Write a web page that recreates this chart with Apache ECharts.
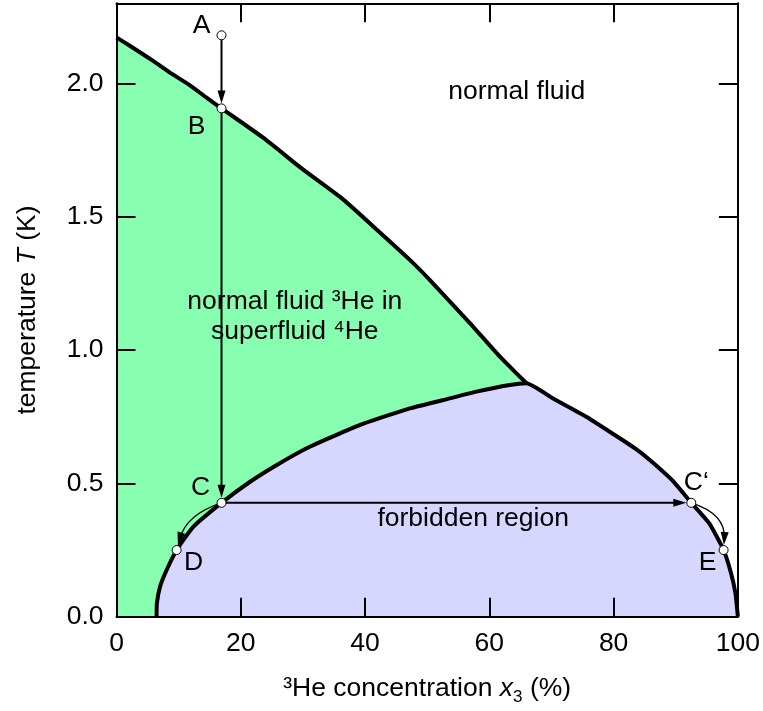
<!DOCTYPE html>
<html>
<head>
<meta charset="utf-8">
<script src="https://cdn.jsdelivr.net/npm/echarts@6/dist/echarts.min.js"></script>
<style>
  html, body { margin: 0; padding: 0; background: #ffffff; }
  #chart { width: 763px; height: 711px; }
</style>
</head>
<body>
<div id="chart"></div>
<script>
// ---- axis ticks ----
const xTicks = [0, 20, 40, 60, 80, 100];
const tTicks = [0.0, 0.5, 1.0, 1.5, 2.0];
const tMax = 2.3;

// ---- lambda line: 3He concentration (%) vs temperature (K) ----
const lambdaX = [0, 2.2, 5.9, 8.6, 11.6, 14.5, 16.9, 23.6, 30.0, 36.5, 41.9, 47.2, 50.4, 56.9, 61.7, 66.0];
const lambdaT = [2.172, 2.140, 2.084, 2.040, 1.996, 1.946, 1.906, 1.796, 1.677, 1.564, 1.451, 1.338, 1.263, 1.100, 0.975, 0.875];

// ---- phase-separation curve ----
const sepX = [6.45, 6.5, 7.0, 8.07, 9.68, 12.35, 16.9, 21.5, 25.8, 31.1, 39.2, 47.2, 52.6, 57.9, 63.3, 66.0,
              70.2, 75.6, 81.0, 84.0, 86.3, 89.5, 92.5, 95.4, 97.7, 98.9, 99.6, 100];
const sepT = [0, 0.05, 0.112, 0.175, 0.25, 0.337, 0.427, 0.506, 0.569, 0.637, 0.719, 0.781, 0.8125, 0.844, 0.869, 0.875,
              0.819, 0.75, 0.669, 0.622, 0.578, 0.51, 0.427, 0.35, 0.25, 0.163, 0.088, 0];

// ---- marked states on the cooling path ----
const pointNames = ['A', 'B', 'C', 'D', 'C\u2018', 'E'];
const pointX = [16.9, 16.9, 16.9, 9.68, 92.5, 97.7];
const pointT = [2.18, 1.906, 0.427, 0.25, 0.427, 0.25];

// arrows between states: [from index, to index]
const arrowFrom = [0, 1, 2, 2, 4];
const arrowTo   = [1, 2, 4, 3, 5];

// ---- region names ----
const regionNames = ['normal fluid', 'normal fluid \u00b3He in\nsuperfluid \u2074He', 'forbidden region'];
const regionX = [64.4, 28.7, 57.4];
const regionT = [1.968, 1.125, 0.369];

// ---- styling ----
const FONT = "'Liberation Sans', Arial, Helvetica, sans-serif";
const FS = 26.5;
const GREEN = '#88ffb0';
const LAVENDER = '#d6d6fe';
// label offsets (px) for each state letter
const letterOffset = { 'A': [-20, -10], 'B': [-25, 18], 'C': [-21, -15], 'D': [17, 13], 'C\u2018': [5, -20], 'E': [-16, 13] };
// bend of each arrow (0 = straight) and its stroke width
const arrowBend = [0, 0, 0, -0.27, 0.39];
const arrowWidth = [2, 2, 2, 1.3, 1.3];

const zip = (xs, ys) => xs.map((v, i) => [v, ys[i]]);

const arrowData = arrowFrom.map((f, i) => [pointX[f], pointT[f], pointX[arrowTo[i]], pointT[arrowTo[i]], arrowBend[i], arrowWidth[i]]);

function renderArrow(params, api) {
  const p1 = api.coord([api.value(0), api.value(1)]);
  const p2 = api.coord([api.value(2), api.value(3)]);
  const bend = api.value(4);
  const lw = api.value(5);
  const dx = p2[0] - p1[0], dy = p2[1] - p1[1];
  const len = Math.hypot(dx, dy);
  const R = 5;             // radius of the state circles
  const HL = 13, HW = 4;   // arrowhead length / half width
  let ctrl = null, tx = dx, ty = dy;
  if (bend) {
    const mx = (p1[0] + p2[0]) / 2, my = (p1[1] + p2[1]) / 2;
    const nx = dy / len, ny = -dx / len;
    ctrl = [mx + nx * bend * len, my + ny * bend * len];
    tx = p2[0] - ctrl[0]; ty = p2[1] - ctrl[1];
  }
  const tl = Math.hypot(tx, ty);
  const ux = tx / tl, uy = ty / tl;
  const tip = [p2[0] - ux * R, p2[1] - uy * R];
  const base = [tip[0] - ux * HL, tip[1] - uy * HL];
  const lineEnd = [tip[0] - ux * HL * 0.5, tip[1] - uy * HL * 0.5];
  const children = [];
  if (ctrl) {
    children.push({
      type: 'bezierCurve',
      shape: { x1: p1[0], y1: p1[1], x2: lineEnd[0], y2: lineEnd[1], cpx1: ctrl[0], cpy1: ctrl[1] },
      style: { stroke: '#000', lineWidth: lw, fill: null }
    });
  } else {
    children.push({
      type: 'line',
      shape: { x1: p1[0], y1: p1[1], x2: lineEnd[0], y2: lineEnd[1] },
      style: { stroke: '#000', lineWidth: lw }
    });
  }
  children.push({
    type: 'polygon',
    shape: { points: [tip, [base[0] - uy * HW, base[1] + ux * HW], [base[0] + uy * HW, base[1] - ux * HW]] },
    style: { fill: '#000' }
  });
  return { type: 'group', children };
}

const axisCommon = {
  type: 'value',
  splitLine: { show: false },
  axisLine: { show: true, onZero: false, lineStyle: { color: '#000', width: 2 } },
  axisTick: { show: true, inside: true, length: 19, lineStyle: { color: '#000', width: 2 } },
  z: 10
};

const chart = echarts.init(document.getElementById('chart'), null, { renderer: 'canvas' });

chart.setOption({
  animation: false,
  backgroundColor: '#ffffff',
  textStyle: { fontFamily: FONT },
  grid: { left: 116.5, right: 24.7, top: 3.3, bottom: 94.3, containLabel: false },
  xAxis: [
    Object.assign({}, axisCommon, {
      position: 'bottom',
      min: xTicks[0], max: xTicks[xTicks.length - 1], interval: xTicks[1] - xTicks[0],
      axisLabel: { show: true, margin: 13, color: '#000', fontSize: FS, fontFamily: FONT,
                   formatter: v => xTicks.includes(v) ? String(v) : '' },
      name: '{n|\u00b3He concentration }{i|x}{s|3}{n| (%)}',
      nameLocation: 'middle',
      nameGap: 54,
      nameTextStyle: {
        rich: {
          n: { fontSize: FS, fontFamily: FONT, color: '#000' },
          i: { fontSize: FS, fontFamily: FONT, fontStyle: 'italic', color: '#000' },
          s: { fontSize: 17, fontFamily: FONT, color: '#000', padding: [18, 0, 0, 0] }
        }
      }
    }),
    Object.assign({}, axisCommon, {
      position: 'top',
      min: xTicks[0], max: xTicks[xTicks.length - 1], interval: xTicks[1] - xTicks[0],
      axisLabel: { show: false }
    })
  ],
  yAxis: [
    Object.assign({}, axisCommon, {
      position: 'left',
      min: 0, max: tMax, interval: tTicks[1] - tTicks[0],
      axisLabel: { show: true, margin: 13, color: '#000', fontSize: FS, fontFamily: FONT,
                   formatter: v => tTicks.some(t => Math.abs(t - v) < 1e-9) ? v.toFixed(1) : '' },
      name: '{n|temperature }{i|T}{n| (K)}',
      nameLocation: 'middle',
      nameGap: 75,
      nameTextStyle: {
        rich: {
          n: { fontSize: FS, fontFamily: FONT, color: '#000' },
          i: { fontSize: FS, fontFamily: FONT, fontStyle: 'italic', color: '#000' }
        }
      }
    }),
    Object.assign({}, axisCommon, {
      position: 'right',
      min: 0, max: tMax, interval: tTicks[1] - tTicks[0],
      axisLabel: { show: false }
    })
  ],
  series: [
    {
      // superfluid region below the lambda line
      name: 'lambda line',
      type: 'line',
      data: zip(lambdaX, lambdaT),
      showSymbol: false,
      smooth: 0.2,
      lineStyle: { color: '#000', width: 4 },
      areaStyle: { color: GREEN, opacity: 1 },
      z: 2
    },
    {
      // phase separation (forbidden) region
      name: 'phase separation',
      type: 'line',
      data: zip(sepX, sepT),
      showSymbol: false,
      smooth: 0.15,
      lineStyle: { color: '#000', width: 4 },
      areaStyle: { color: LAVENDER, opacity: 1 },
      z: 3
    },
    {
      name: 'arrows',
      type: 'custom',
      renderItem: renderArrow,
      data: arrowData,
      encode: { x: [0, 2], y: [1, 3] },
      silent: true,
      z: 4
    },
    {
      name: 'states',
      type: 'scatter',
      data: pointNames.map((n, i) => ({
        name: n,
        value: [pointX[i], pointT[i]],
        label: { offset: letterOffset[n] }
      })),
      symbol: 'circle',
      symbolSize: 9,
      itemStyle: { color: '#fff', borderColor: '#000', borderWidth: 1, opacity: 1 },
      label: { show: true, position: 'inside', formatter: '{b}', color: '#000', fontSize: FS, fontFamily: FONT },
      z: 5
    },
    {
      name: 'regions',
      type: 'scatter',
      data: regionNames.map((n, i) => ({ name: n, value: [regionX[i], regionT[i]] })),
      symbolSize: 0,
      itemStyle: { opacity: 1 },
      label: { show: true, position: 'inside', formatter: '{b}', color: '#000', fontSize: FS, fontFamily: FONT,
               lineHeight: 30, align: 'center', verticalAlign: 'middle' },
      z: 6
    }
  ]
});
</script>
</body>
</html>
